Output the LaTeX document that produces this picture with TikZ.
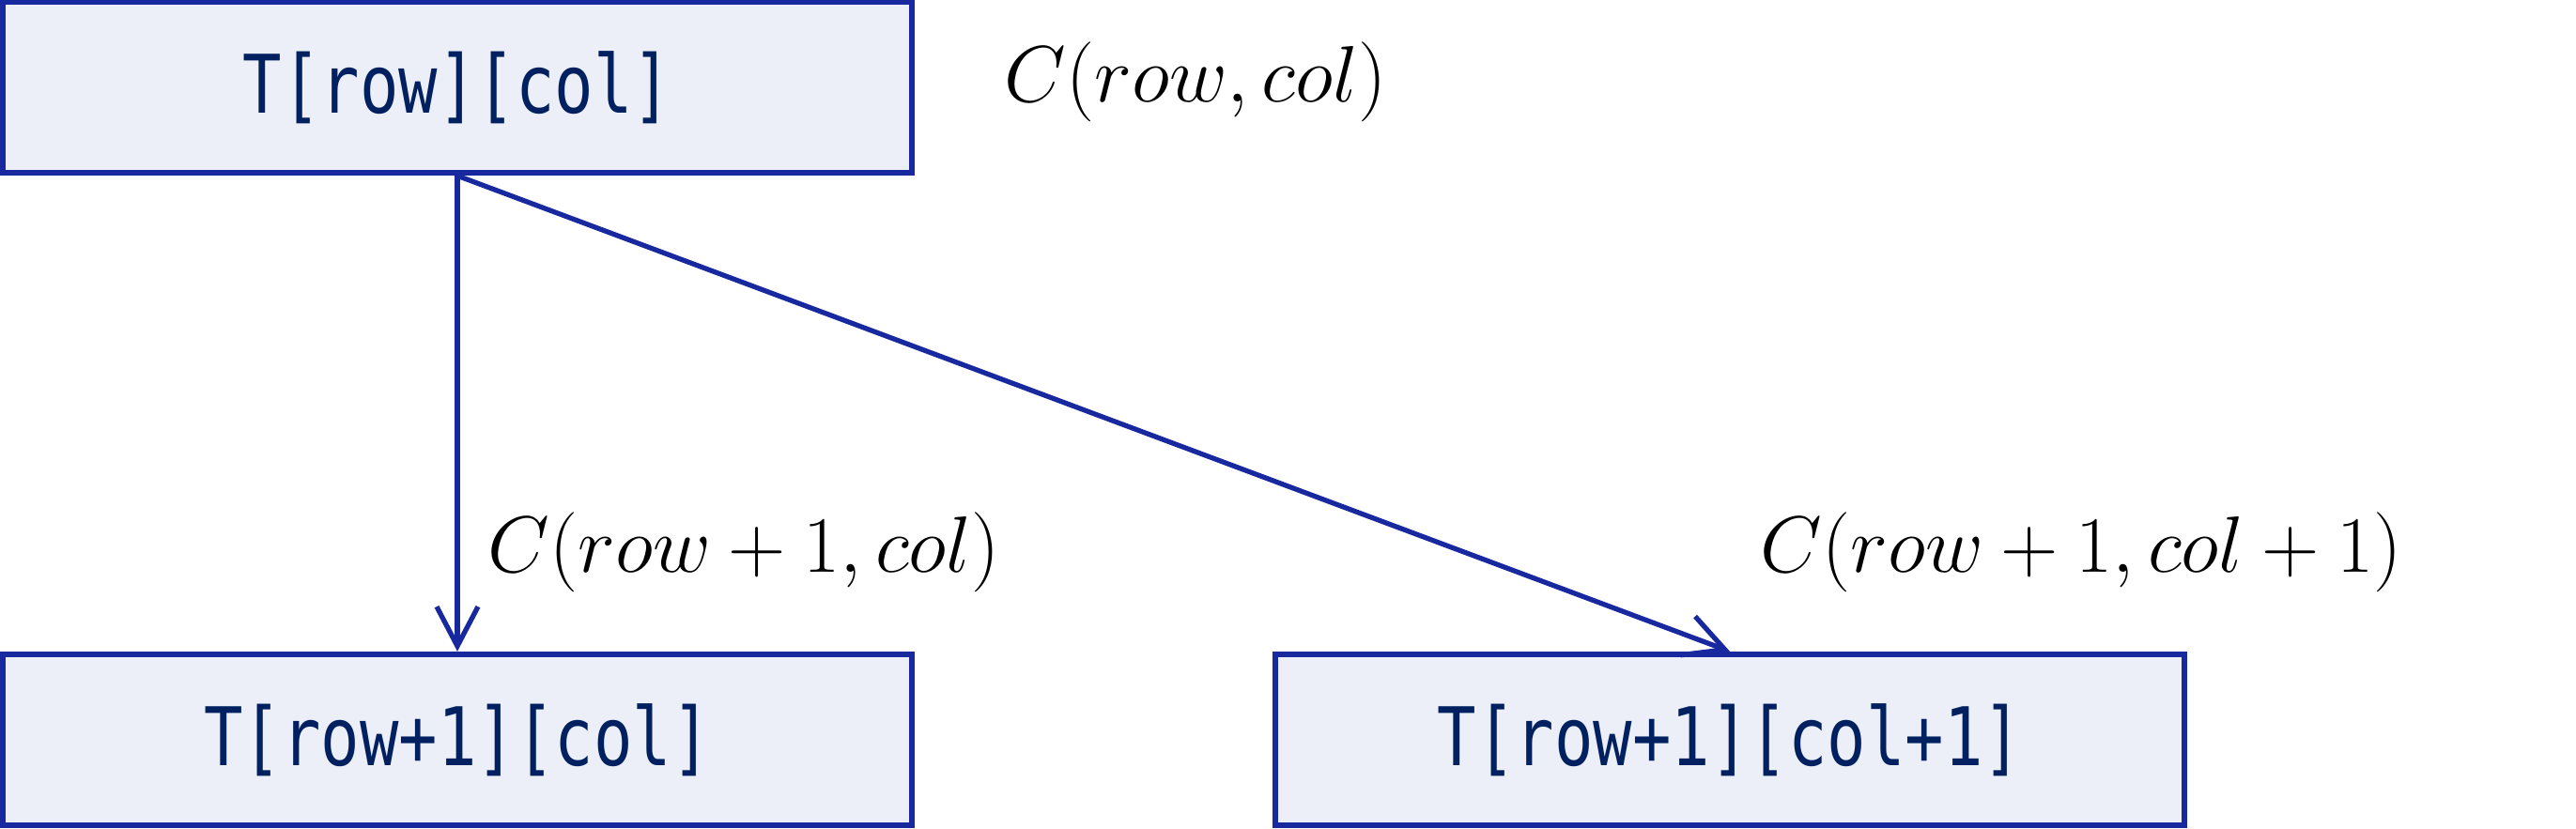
\RequirePackage{fix-cm}
\documentclass[tikz,border=0pt]{standalone}
\usepackage{fontspec}
\setmonofont{DejaVu Sans Mono}[FakeStretch=0.8]
\usepackage{tikz}
\usetikzlibrary{arrows.meta, positioning}
\definecolor{bBlue}{HTML}{1829A0}
\definecolor{bFill}{HTML}{ECEFF7}
\definecolor{bText}{HTML}{002060}

\begin{document}
\begin{tikzpicture}[
    cell/.style={draw=bBlue, line width=1.8pt, fill=bFill, text=bText,
                 minimum width=9.68cm, minimum height=1.82cm,
                 font=\fontsize{24.5}{28}\selectfont\ttfamily},
    cost/.style={anchor=west, font=\fontsize{24.2}{28}\selectfont},
    arr/.style={draw=bBlue, line width=1.5pt,
                -{Straight Barb[length=4.2mm, width=4.4mm]}}
  ]
    \useasboundingbox (0,0) rectangle (27.43,8.82);
    \node[cell] (top) at (4.87,7.89) {T[row][col]};
    \node[cell] (down) at (4.87,0.94) {T[row+1][col]};
    \node[cell] (diag) at (18.42,0.94) {T[row+1][col+1]};
    \node[cost] (ctop) at (10.57,7.95) {$C(row,col)$};
    \node[cost] (cdown) at (5.07,2.94) {$C(row+1,col)$};
    \node[cost] (cdiag) at (18.62,2.94) {$C(row+1,col+1)$};
    \draw[arr] (top.south) -- (down.north);
    \draw[arr] (top.south) -- (diag.north);
  \end{tikzpicture}
\end{document}
